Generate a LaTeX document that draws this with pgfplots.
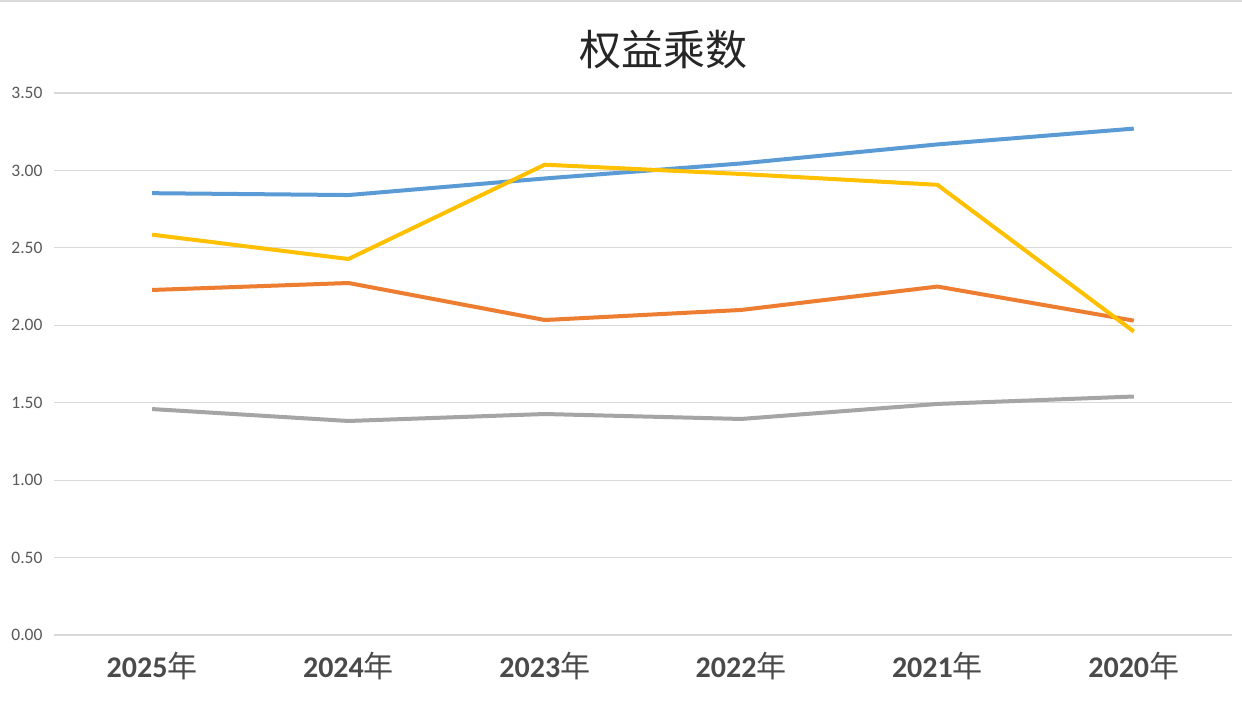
\documentclass[border=0pt]{standalone}
\usepackage{pgfplots}
\pgfplotsset{compat=1.18}
\usepackage{fontspec}
\setmainfont{Carlito}
\newfontfamily\cjk{Noto Sans CJK SC}
\definecolor{cblue}{HTML}{5B9BD5}
\definecolor{corange}{HTML}{ED7D31}
\definecolor{cgray}{HTML}{A5A5A5}
\definecolor{cyellow}{HTML}{FFC000}
\definecolor{ctext}{HTML}{595959}
\definecolor{clab}{HTML}{4A4A4A}
\definecolor{cgrid}{HTML}{D9D9D9}
\newcommand{\nian}{{\cjk\mdseries 年}}
\begin{document}
\begin{tikzpicture}
\path[use as bounding box] (0,0) rectangle (1242pt,717pt);
\fill[white] (0,0) rectangle (1242pt,717pt);
\draw[line width=2pt, color=cgrid] (0,716pt) -- (1242pt,716pt);
\begin{axis}[
  at={(54pt,82pt)}, anchor=south west,
  scale only axis, width=1178pt, height=542pt,
  xmin=-0.5, xmax=5.5, ymin=0, ymax=3.5,
  xtick={0,1,2,3,4,5},
  xticklabels={2025\nian,2024\nian,2023\nian,2022\nian,2021\nian,2020\nian},
  ytick={0,0.5,1,1.5,2,2.5,3,3.5},
  ymajorgrids, major grid style={color=cgrid, line width=1.2pt},
  axis line style={draw=none},
  major tick length=0pt,
  /pgf/number format/assume math mode=true,
  yticklabel style={/pgf/number format/.cd, fixed, fixed zerofill, precision=2, /tikz/.cd, font=\fontsize{17.5}{20}\selectfont, color=ctext, xshift=-8pt},
  xticklabel style={font=\fontsize{30}{34}\selectfont\bfseries, color=clab, yshift=-14pt},
  every axis plot/.append style={line width=4pt, line join=round, mark=none},
]
\addplot[color=cblue] coordinates {(0,2.853) (1,2.841) (2,2.948) (3,3.045) (4,3.168) (5,3.270)};
\addplot[color=corange] coordinates {(0,2.228) (1,2.273) (2,2.034) (3,2.099) (4,2.250) (5,2.030)};
\addplot[color=cyellow] coordinates {(0,2.585) (1,2.428) (2,3.037) (3,2.977) (4,2.907) (5,1.960)};
\addplot[color=cgray] coordinates {(0,1.459) (1,1.382) (2,1.427) (3,1.395) (4,1.492) (5,1.540)};
\end{axis}
\node[font=\cjk\fontsize{42}{46}\selectfont, color=black!85] at (663pt,667pt) {权益乘数};
\end{tikzpicture}
\end{document}
